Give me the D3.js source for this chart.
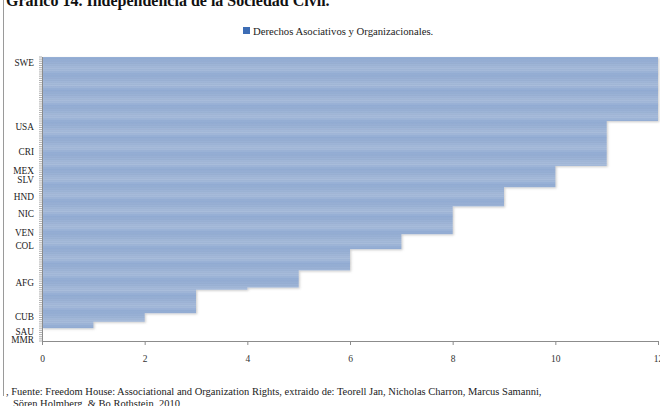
<!DOCTYPE html>
<html>
<head>
<meta charset="utf-8">
<script src="https://cdn.jsdelivr.net/npm/d3@7"></script>
<style>
  html, body { margin: 0; padding: 0; background: #fff; }
  svg { display: block; }
  text { font-family: "Liberation Serif", "DejaVu Serif", serif; }
</style>
</head>
<body>
<svg id="chart" width="660" height="406"></svg>
<script>
// Association and organization rights score, one entry per country (top to bottom)
const scores = [
  12,12,12,12,12,12,12,12,12,12,12,12,12,12,12,12,12,12,12,12,12,12,12,12,12,12,12,12,12,12,
  11,11,11,11,11,11,11,11,11,11,11,11,11,11,11,11,11,11,11,11,11,
  10,10,10,10,10,10,10,10,10,10,
  9,9,9,9,9,9,9,9,9,
  8,8,8,8,8,8,8,8,8,8,8,8,8,
  7,7,7,7,7,7,7,
  6,6,6,6,6,6,6,6,6,6,
  5,5,5,5,5,5,5,5,
  4,
  3,3,3,3,3,3,3,3,3,3,3,
  2,2,2,2,
  1,1,1,
  0,0,0,0,0,0
];

// Country codes shown on the category axis (row index -> code)
const labelRows = [2, 32, 44, 53, 57, 65, 73, 82, 88, 105, 121, 128, 132];
const labelCodes = ["SWE", "USA", "CRI", "MEX", "SLV", "HND", "NIC", "VEN", "COL", "AFG", "CUB", "SAU", "MMR"];

const xTicks = [0, 2, 4, 6, 8, 10, 12];
const seriesName = "Derechos Asociativos y Organizacionales.";
const titleText = "Gráfico 14. Independencia de la Sociedad Civil.";
const sourceLines = [
  ", Fuente: Freedom House: Associational and Organization Rights, extraido de: Teorell Jan, Nicholas Charron, Marcus Samanni,",
  "Sören Holmberg, & Bo Rothstein, 2010"
];

const svg = d3.select("#chart");
const rows = scores.map((v, i) => ({ i, v }));

const x = d3.scaleLinear().domain([0, 12]).range([42, 658]);
const y = d3.scaleBand().domain(rows.map(d => d.i)).range([57, 341]).padding(0);

const defs = svg.append("defs");
const grad = defs.append("linearGradient")
  .attr("id", "barFill").attr("x1", 0).attr("y1", 0).attr("x2", 0).attr("y2", 1);
grad.append("stop").attr("offset", "0%").attr("stop-color", "#7194c9");
grad.append("stop").attr("offset", "35%").attr("stop-color", "#a9bddb");
grad.append("stop").attr("offset", "70%").attr("stop-color", "#90aad2");
grad.append("stop").attr("offset", "100%").attr("stop-color", "#b6c7e1");

const shadow = defs.append("filter").attr("id", "barShadow")
  .attr("x", "-5%").attr("y", "-50%").attr("width", "110%").attr("height", "200%");
shadow.append("feDropShadow")
  .attr("dx", 1.2).attr("dy", 1).attr("stdDeviation", 0.8)
  .attr("flood-color", "#7a7a7a").attr("flood-opacity", 0.4);

// Frame edge on the left
svg.append("line")
  .attr("x1", 3.5).attr("x2", 3.5).attr("y1", 0).attr("y2", 396)
  .attr("stroke", "#9a9a9a").attr("stroke-width", 1);

// Title
svg.append("text")
  .attr("x", 6).attr("y", 6)
  .attr("font-size", 16).attr("font-weight", "bold").attr("fill", "#111")
  .text(titleText);

// Legend
const legend = svg.append("g").attr("transform", "translate(243,27)");
legend.append("rect").attr("width", 7).attr("height", 7).attr("fill", "#3d6db5");
legend.append("text").attr("x", 10).attr("y", 7.5)
  .attr("font-size", 10.7).attr("fill", "#222").text(seriesName);

// Bars
svg.append("g").attr("filter", "url(#barShadow)")
  .selectAll("rect").data(rows.filter(d => d.v > 0)).join("rect")
  .attr("x", x(0))
  .attr("y", d => y(d.i))
  .attr("width", d => x(d.v) - x(0))
  .attr("height", y.bandwidth())
  .attr("fill", "url(#barFill)");

// Category axis: line, tick marks between categories, selected country codes
const yAxis = svg.append("g");
yAxis.append("line")
  .attr("x1", x(0) + 0.5).attr("x2", x(0) + 0.5).attr("y1", 57).attr("y2", 341)
  .attr("stroke", "#8c8c8c");
yAxis.selectAll("line.tick").data(rows.concat([{ i: scores.length }])).join("line")
  .attr("class", "tick")
  .attr("x1", x(0) - 3).attr("x2", x(0))
  .attr("y1", d => (d.i < scores.length ? y(d.i) : 341))
  .attr("y2", d => (d.i < scores.length ? y(d.i) : 341))
  .attr("stroke", "#9a9a9a").attr("stroke-width", 0.8);
yAxis.selectAll("text").data(labelRows).join("text")
  .attr("x", 34)
  .attr("y", d => y(d) + y.bandwidth() / 2)
  .attr("dy", "0.35em")
  .attr("text-anchor", "end")
  .attr("font-size", 9.3).attr("fill", "#222")
  .text((d, k) => labelCodes[k]);

// Value axis
const xAxis = svg.append("g").attr("transform", "translate(0,341)")
  .call(d3.axisBottom(x).tickValues(xTicks).tickSize(4).tickPadding(10).tickFormat(d3.format("d")));
xAxis.select(".domain").attr("stroke", "#8c8c8c");
xAxis.selectAll(".tick line").attr("stroke", "#8c8c8c");
xAxis.selectAll(".tick text")
  .attr("font-family", "Liberation Serif, serif").attr("font-size", 9.5).attr("fill", "#333");

// Source note
svg.append("g").selectAll("text").data(sourceLines).join("text")
  .attr("x", (d, k) => (k === 0 ? 6 : 13))
  .attr("y", (d, k) => 395 + k * 12)
  .attr("font-size", 10.5).attr("fill", "#222")
  .text(d => d);
</script>
</body>
</html>
